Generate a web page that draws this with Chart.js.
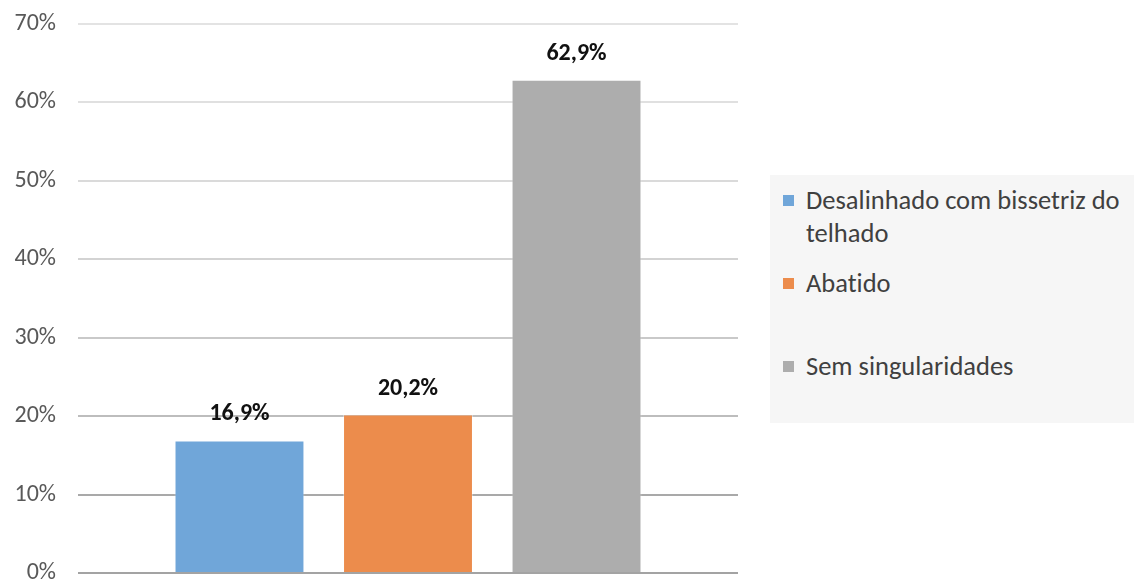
<!DOCTYPE html>
<html>
<head>
<meta charset="utf-8">
<script src="https://cdn.jsdelivr.net/npm/chart.js@4"></script>
<style>
  html, body { margin: 0; padding: 0; background: #fff; }
  #wrap { position: relative; width: 1134px; height: 582px; font-family: Calibri, Carlito, Lato, sans-serif; }
  #chart { position: absolute; left: 0; top: 0; }
  #legend {
    position: absolute; left: 770px; top: 175px; width: 364px; height: 248px;
    background: #f6f6f6; box-sizing: border-box;
  }
  #legend .item {
    position: absolute; left: 13px; right: 0; font-size: 26.5px; line-height: 33px; color: #404040;
    font-variant-ligatures: none; white-space: nowrap;
  }
  #legend .item:nth-child(1) { top: 9px; }
  #legend .item:nth-child(2) { top: 92px; }
  #legend .item:nth-child(3) { top: 175px; }
  #legend .box { position: absolute; left: 0; top: 11px; width: 11px; height: 11px; }
  #legend .txt { display: block; margin-left: 23px; }
</style>
</head>
<body>
<div id="wrap">
  <canvas id="chart" width="1134" height="582"></canvas>
  <div id="legend"></div>
</div>
<script>
// chart data
const categories = [''];
const seriesNames = [['Desalinhado com bissetriz do', 'telhado'], ['Abatido'], ['Sem singularidades']];
const seriesValues = [16.9, 20.2, 62.9];
const seriesColors = ['#70A6D9', '#EC8C4C', '#ADADAD'];
const yMin = 0;
const yMax = 70;
const yStep = 10;

// gridlines get darker toward the bottom, like the original
const gridShades = {0: '#a3a3a3', 10: '#a9a9a9', 20: '#bdbdbd', 30: '#c9c9c9', 40: '#d3d3d3', 50: '#dadada', 60: '#e0e0e0', 70: '#e3e3e3'};

const FONT = 'Calibri, Carlito, Lato, sans-serif';
const fmtPct = v => v.toFixed(1).replace('.', ',') + '%';

const valueLabels = {
  id: 'valueLabels',
  afterDatasetsDraw(chart) {
    const ctx = chart.ctx;
    ctx.save();
    ctx.font = 'bold 24px ' + FONT;
    ctx.fillStyle = '#111';
    ctx.textAlign = 'center';
    ctx.textBaseline = 'middle';
    chart.data.datasets.forEach((ds, i) => {
      const meta = chart.getDatasetMeta(i);
      meta.data.forEach((bar, j) => {
        ctx.fillText(fmtPct(ds.data[j]), bar.x, bar.y - 26);
      });
    });
    ctx.restore();
  }
};

const datasets = seriesNames.map((name, i) => ({
  label: name,
  data: [seriesValues[i]],
  backgroundColor: seriesColors[i],
  borderColor: 'rgba(255,255,255,0.35)',
  borderWidth: 1,
  categoryPercentage: 0.766,
  barPercentage: 0.771,
}));

const chart = new Chart(document.getElementById('chart'), {
  type: 'bar',
  data: { labels: categories, datasets: datasets },
  options: {
    responsive: false,
    animation: false,
    layout: { padding: { left: 0, top: 24, right: 396, bottom: 9 } },
    plugins: {
      legend: { display: false },
      tooltip: { enabled: false },
    },
    scales: {
      x: { display: false },
      y: {
        min: yMin,
        max: yMax,
        border: { display: false },
        grid: {
          drawTicks: false,
          lineWidth: 2,
          color: ctx => gridShades[ctx.tick.value] || '#d0d0d0',
        },
        ticks: {
          stepSize: yStep,
          padding: 22,
          color: '#595959',
          font: { family: FONT, size: 24 },
          callback: v => v + '%',
        },
        afterFit(scale) {
          scale.width = 78;
          scale.paddingTop = 0;
          scale.paddingBottom = 0;
        },
      },
    },
  },
  plugins: [valueLabels],
});

// html legend, one line per entry of the label array
const legendEl = document.getElementById('legend');
chart.data.datasets.forEach(ds => {
  const item = document.createElement('div');
  item.className = 'item';
  const box = document.createElement('span');
  box.className = 'box';
  box.style.background = ds.backgroundColor;
  item.appendChild(box);
  ds.label.forEach(line => {
    const txt = document.createElement('span');
    txt.className = 'txt';
    txt.textContent = line;
    item.appendChild(txt);
  });
  legendEl.appendChild(item);
});
</script>
</body>
</html>
